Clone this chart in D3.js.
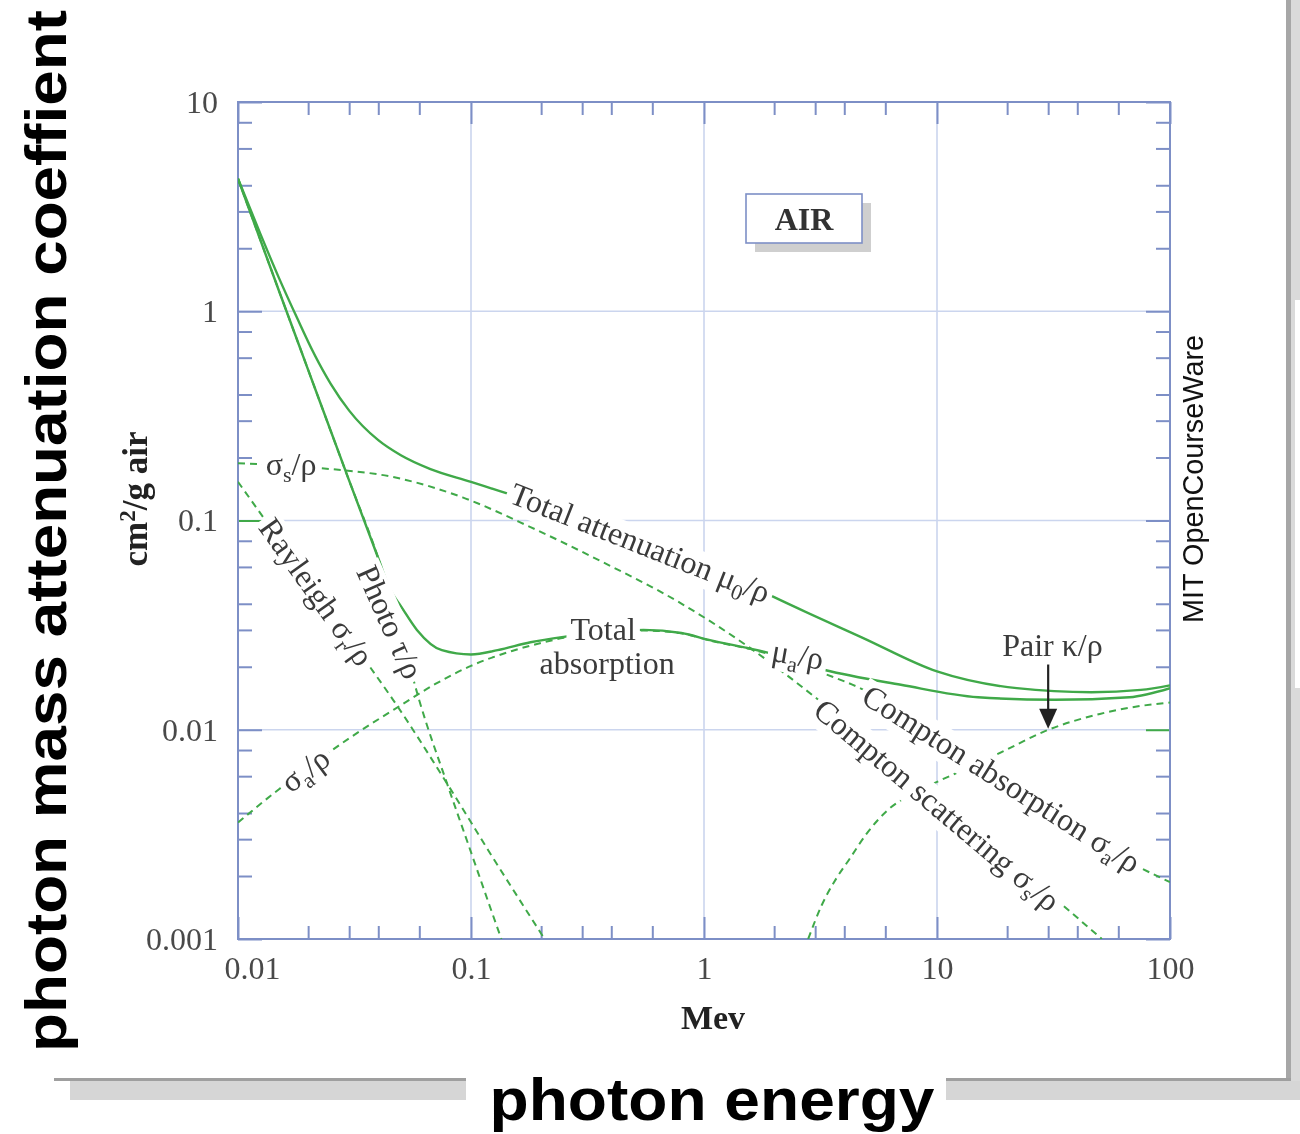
<!DOCTYPE html>
<html>
<head>
<meta charset="utf-8">
<script src="https://cdn.jsdelivr.net/npm/d3@7"></script>
<style>
  html, body { margin: 0; padding: 0; background: #fff; }
  svg { display: block; }
</style>
</head>
<body>
<svg id="chart" width="1300" height="1134"></svg>
<script>
// Photon energy in MeV, mass coefficients in cm²/g for air
const energyTicks = [0.01, 0.1, 1, 10, 100];
const coefTicks = [0.001, 0.01, 0.1, 1, 10];
const energyMinorSteps = [2, 3, 4, 6];
const coefMinorSteps = [2, 3, 4, 6, 8];

// [energy, coefficient] pairs for each interaction
const totalAttenuation = [[0.01,4.3],[0.0125,2.33],[0.015,1.44],[0.018,0.92],[0.021,0.64],[0.025,0.45],[0.03,0.335],[0.04,0.242],[0.05,0.205],[0.067,0.176],[0.1,0.153],[0.133,0.138],[0.2,0.12],[0.3,0.105],[0.6,0.079],[1,0.063],[2,0.043],[4.8,0.0275],[10,0.019],[22,0.0158],[46,0.0151],[75,0.0155],[100,0.0163]];
const totalAbsorption = [[0.01,4.3],[0.015,1.25],[0.02,0.525],[0.03,0.155],[0.04,0.066],[0.045,0.0466],[0.05,0.039],[0.0586,0.030],[0.075,0.024],[0.1,0.0229],[0.13,0.024],[0.18,0.0262],[0.25,0.0278],[0.4,0.0295],[0.55,0.0300],[0.8,0.029],[1.06,0.0268],[1.75,0.0238],[3.3,0.0193],[7,0.0164],[15,0.0143],[32,0.0139],[67,0.0143],[100,0.0158]];
const photoelectric = [[0.01,4.3],[0.015,1.25],[0.02,0.525],[0.03,0.155],[0.04,0.066],[0.05,0.029],[0.06,0.0138],[0.08,0.0053],[0.1,0.0026],[0.12,0.00145],[0.135,0.001]];
const rayleigh = [[0.01,0.153],[0.0128,0.104],[0.02,0.051],[0.0368,0.02],[0.0463,0.0139],[0.0796,0.00545],[0.12,0.0026],[0.207,0.001]];
const comptonScattering = [[0.01,0.188],[0.0225,0.178],[0.048,0.16],[0.092,0.129],[0.18,0.093],[0.35,0.065],[0.79,0.0404],[1.56,0.0248],[3.1,0.0139],[10,0.0047],[36.5,0.00138],[51,0.001]];
const comptonAbsorption = [[0.01,0.0036],[0.015,0.0052],[0.02,0.0066],[0.03,0.0091],[0.05,0.0131],[0.07,0.0165],[0.1,0.0202],[0.15,0.0238],[0.2,0.026],[0.25,0.0275],[0.4,0.0293],[0.55,0.0298],[0.8,0.0289],[1.06,0.0267],[1.75,0.0236],[3.3,0.0185],[4.86,0.0155],[10,0.0093],[30,0.0041],[74,0.0022],[100,0.00187]];
const pairProduction = [[2.8,0.001],[3.2,0.00145],[3.7,0.00195],[4.2,0.0024],[5,0.0032],[6.1,0.0041],[8,0.005],[10.4,0.00575],[15,0.0069],[19.3,0.0079],[29.4,0.0099],[50,0.0119],[75,0.013],[100,0.0135]];

const series = [
  { data: comptonScattering, dashed: true },
  { data: comptonAbsorption, dashed: true },
  { data: rayleigh,          dashed: true },
  { data: photoelectric,     dashed: true },
  { data: pairProduction,    dashed: true },
  { data: totalAbsorption,   dashed: false },
  { data: totalAttenuation,  dashed: false }
];

const serif = "'Liberation Serif', 'Times New Roman', serif";
const sans = "'Liberation Sans', Arial, Helvetica, sans-serif";
const green = "#3fa948";
const axisBlue = "#7d8fc6";
const gridBlue = "#cbd5ee";

const svg = d3.select("#chart");

// ---- page frame and drop shadow ----
const page = svg.append("g");
page.append("rect").attr("x", 1291).attr("y", 0).attr("width", 9).attr("height", 1100).attr("fill", "#dadada");
page.append("rect").attr("x", 1286).attr("y", 0).attr("width", 5).attr("height", 1082).attr("fill", "#a7a7a7");
page.append("rect").attr("x", 1295).attr("y", 300).attr("width", 5).attr("height", 388).attr("fill", "#fff");
page.append("rect").attr("x", 70).attr("y", 1081).attr("width", 1230).attr("height", 19).attr("fill", "#d6d6d6");
page.append("rect").attr("x", 54).attr("y", 1078).attr("width", 1237).attr("height", 3).attr("fill", "#9f9f9f");

// ---- plot ----
const plot = { left: 238, right: 1170, top: 102, bottom: 939 };
const x = d3.scaleLog().domain([0.01, 100]).range([plot.left, plot.right]);
const y = d3.scaleLog().domain([0.001, 10]).range([plot.bottom, plot.top]);

const defs = svg.append("defs");
defs.append("clipPath").attr("id", "plot-clip")
  .append("rect").attr("x", plot.left).attr("y", plot.top)
  .attr("width", plot.right - plot.left).attr("height", plot.bottom - plot.top);
defs.append("filter").attr("id", "soft").attr("x", "-5%").attr("y", "-5%").attr("width", "110%").attr("height", "110%")
  .append("feGaussianBlur").attr("stdDeviation", 0.45);

const chart = svg.append("g").attr("filter", "url(#soft)");

// gridlines at the inner decades
const grid = chart.append("g").attr("stroke", gridBlue).attr("stroke-width", 1.6);
grid.selectAll("line.v").data(energyTicks.slice(1, -1)).join("line").attr("class", "v")
  .attr("x1", d => x(d)).attr("x2", d => x(d)).attr("y1", plot.top).attr("y2", plot.bottom);
grid.selectAll("line.h").data(coefTicks.slice(1, -1)).join("line").attr("class", "h")
  .attr("y1", d => y(d)).attr("y2", d => y(d)).attr("x1", plot.left).attr("x2", plot.right);

// minor tick positions within each decade
const minorOf = (majors, steps) => majors.slice(0, -1).flatMap(m => steps.map(s => m * s));
const energyMinor = minorOf(energyTicks, energyMinorSteps);
const coefMinor = minorOf(coefTicks, coefMinorSteps);

const fmt = d3.format("~g");
function styleAxis(g, labelled) {
  g.select(".domain").remove();
  g.selectAll(".tick line").attr("stroke", axisBlue).attr("stroke-width", 2);
  if (labelled) {
    g.selectAll(".tick text").attr("fill", "#4a4a4a")
      .style("font-family", serif).style("font-size", "32px");
  } else {
    g.selectAll(".tick text").remove();
  }
}

// bottom
chart.append("g").attr("transform", `translate(0,${plot.bottom})`)
  .call(d3.axisBottom(x).tickValues(energyTicks).tickSizeInner(-22).tickSizeOuter(0).tickPadding(17).tickFormat(fmt))
  .call(g => styleAxis(g, true))
  .call(g => g.selectAll(".tick text").attr("dx", d => d === 0.01 ? 14 : 0));
chart.append("g").attr("transform", `translate(0,${plot.bottom})`)
  .call(d3.axisBottom(x).tickValues(energyMinor).tickSizeInner(-13).tickSizeOuter(0))
  .call(g => styleAxis(g, false));
// top
chart.append("g").attr("transform", `translate(0,${plot.top})`)
  .call(d3.axisTop(x).tickValues(energyTicks).tickSizeInner(-22).tickSizeOuter(0))
  .call(g => styleAxis(g, false));
chart.append("g").attr("transform", `translate(0,${plot.top})`)
  .call(d3.axisTop(x).tickValues(energyMinor).tickSizeInner(-13).tickSizeOuter(0))
  .call(g => styleAxis(g, false));
// left
chart.append("g").attr("transform", `translate(${plot.left},0)`)
  .call(d3.axisLeft(y).tickValues(coefTicks).tickSizeInner(-24).tickSizeOuter(0).tickPadding(20).tickFormat(fmt))
  .call(g => styleAxis(g, true))
  .call(g => g.selectAll(".tick line").filter(d => d === 0.1).attr("stroke", green));
chart.append("g").attr("transform", `translate(${plot.left},0)`)
  .call(d3.axisLeft(y).tickValues(coefMinor).tickSizeInner(-14).tickSizeOuter(0))
  .call(g => styleAxis(g, false));
// right
chart.append("g").attr("transform", `translate(${plot.right},0)`)
  .call(d3.axisRight(y).tickValues(coefTicks).tickSizeInner(-24).tickSizeOuter(0))
  .call(g => styleAxis(g, false))
  .call(g => g.selectAll(".tick line").filter(d => d === 0.01).attr("stroke", green));
chart.append("g").attr("transform", `translate(${plot.right},0)`)
  .call(d3.axisRight(y).tickValues(coefMinor).tickSizeInner(-14).tickSizeOuter(0))
  .call(g => styleAxis(g, false));

// plot frame
chart.append("rect").attr("x", plot.left).attr("y", plot.top)
  .attr("width", plot.right - plot.left).attr("height", plot.bottom - plot.top)
  .attr("fill", "none").attr("stroke", axisBlue).attr("stroke-width", 2);

// curves
const line = d3.line().x(d => x(d[0])).y(d => y(d[1])).curve(d3.curveMonotoneX);
chart.append("g").attr("clip-path", "url(#plot-clip)")
  .selectAll("path").data(series).join("path")
  .attr("d", d => line(d.data))
  .attr("fill", "none").attr("stroke", green)
  .attr("stroke-width", d => d.dashed ? 2 : 2.4)
  .attr("stroke-dasharray", d => d.dashed ? "7,5" : null);

// curve labels, each set on a white patch that interrupts the lines behind it
const curveLabels = [
  { parts: [["σ"], ["s", "sub"], ["/ρ"]],                       at: [0.0169, 0.186],  angle: 0 },
  { parts: [["Rayleigh σ"], ["r", "sub"], ["/ρ"]],              at: [0.0217, 0.0455], angle: 54.5 },
  { parts: [["Photo τ/ρ"]],                                    at: [0.0449, 0.0327], angle: 66 },
  { parts: [["Total attenuation μ"], ["0", "sub"], ["/ρ"]],     at: [0.532, 0.078],   angle: 21.5 },
  { parts: [["Total"]],                                        at: [0.369, 0.030],   angle: 0 },
  { parts: [["absorption"]],                                   at: [0.384, 0.0208],  angle: 0 },
  { parts: [["μ"], ["a", "sub"], ["/ρ"]],                       at: [2.53, 0.0228],   angle: 10 },
  { parts: [["Compton absorption σ"], ["a", "sub"], ["/ρ"]],    at: [18.9, 0.00582],  angle: 32.3 },
  { parts: [["Compton scattering σ"], ["s", "sub"], ["/ρ"]],    at: [10, 0.00436],    angle: 40 },
  { parts: [["σ"], ["a", "sub"], ["/ρ"]],                       at: [0.0194, 0.00643], angle: -37 },
  { parts: [["Pair κ/ρ"]],                                     at: [31.3, 0.0254],   angle: 0 }
];

const labelLayer = chart.append("g");
curveLabels.forEach(lab => {
  const g = labelLayer.append("g")
    .attr("transform", `translate(${x(lab.at[0])},${y(lab.at[1])}) rotate(${lab.angle})`);
  const bg = g.append("rect").attr("fill", "#fff");
  const t = g.append("text").attr("text-anchor", "middle").attr("dy", "0.33em")
    .attr("fill", "#3a3a3a").style("font-family", serif).style("font-size", "32px");
  let shifted = false;
  lab.parts.forEach(([s, kind]) => {
    const ts = t.append("tspan").text(s);
    if (kind === "sub") { ts.attr("dy", 7).style("font-size", "22px"); shifted = true; }
    else if (shifted) { ts.attr("dy", -7); shifted = false; }
  });
  const bb = t.node().getBBox();
  bg.attr("x", bb.x - 4).attr("y", bb.y + 3).attr("width", bb.width + 8).attr("height", bb.height - 6);
});

// arrow from the pair label down to its curve
const arrowAt = { energy: 30, from: 0.0205, to: 0.0101 };
const ax = x(arrowAt.energy), ay0 = y(arrowAt.from), ay1 = y(arrowAt.to);
chart.append("line").attr("x1", ax).attr("x2", ax).attr("y1", ay0).attr("y2", ay1 - 10)
  .attr("stroke", "#222").attr("stroke-width", 2.2);
chart.append("path").attr("d", `M${ax - 9},${ay1 - 20}L${ax + 9},${ay1 - 20}L${ax},${ay1}Z`).attr("fill", "#222");

// material tag
const tag = chart.append("g").attr("transform", "translate(746,194)");
tag.append("rect").attr("x", 9).attr("y", 9).attr("width", 116).attr("height", 49).attr("fill", "#cfcfcf");
tag.append("rect").attr("width", 116).attr("height", 49).attr("fill", "#fff").attr("stroke", axisBlue).attr("stroke-width", 1.6);
tag.append("text").attr("x", 58).attr("y", 36).attr("text-anchor", "middle")
  .style("font-family", serif).style("font-size", "32px").style("font-weight", "bold").attr("fill", "#333").text("AIR");

// axis titles of the plot
chart.append("text").attr("x", 713).attr("y", 1029).attr("text-anchor", "middle")
  .style("font-family", serif).style("font-size", "34px").style("font-weight", "bold").attr("fill", "#222").text("Mev");
const yt = chart.append("text").attr("transform", "translate(147,499) rotate(-90)").attr("text-anchor", "middle")
  .style("font-family", serif).style("font-size", "35px").style("font-weight", "bold").attr("fill", "#222");
yt.append("tspan").text("cm");
yt.append("tspan").attr("dy", -12).style("font-size", "23px").text("2");
yt.append("tspan").attr("dy", 12).text("/g air");

// credit line
svg.append("text").attr("transform", "translate(1203,479) rotate(-90)").attr("text-anchor", "middle")
  .attr("textLength", 288).attr("lengthAdjust", "spacingAndGlyphs")
  .style("font-family", sans).style("font-size", "29px").attr("fill", "#111").text("MIT OpenCourseWare");

// large overlay titles
svg.append("text").attr("transform", "translate(66,531) rotate(-90)").attr("text-anchor", "middle")
  .attr("textLength", 1042).attr("lengthAdjust", "spacingAndGlyphs")
  .style("font-family", sans).style("font-size", "58px").style("font-weight", "bold").attr("fill", "#000")
  .text("photon mass attenuation coeffient");
svg.append("rect").attr("x", 466).attr("y", 1070).attr("width", 480).attr("height", 64).attr("fill", "#fff");
svg.append("text").attr("x", 712).attr("y", 1120).attr("text-anchor", "middle")
  .attr("textLength", 445).attr("lengthAdjust", "spacingAndGlyphs")
  .style("font-family", sans).style("font-size", "59px").style("font-weight", "bold").attr("fill", "#000")
  .text("photon energy");
</script>
</body>
</html>
